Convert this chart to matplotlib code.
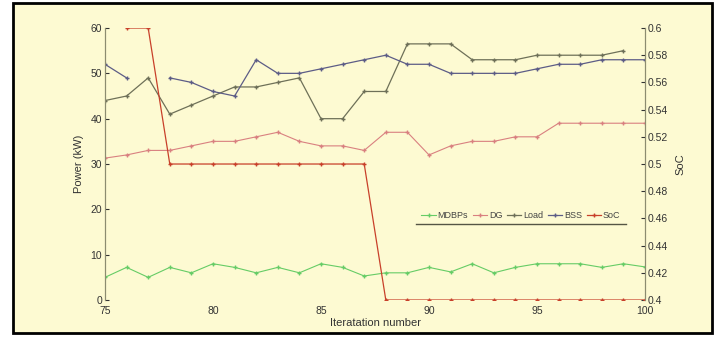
import numpy as np
import matplotlib
matplotlib.use("Agg")
import matplotlib.pyplot as plt
from matplotlib.patches import Rectangle

plt.rcParams['font.family'] = ['Liberation Sans', 'DejaVu Sans']

# iteration axis
iters = np.arange(75, 101)

# power series (kW); nan where nothing is drawn
mdbps = [5, 7.2, 5, 7.2, 6, 8, 7.2, 6, 7.2, 6, 8, 7.2, 5.3, 6, 6, 7.2,
         6.2, 8, 6, 7.2, 8, 8, 8, 7.2, 8, 7.3]
dg = [31.3, 32, 33, 33, 34, 35, 35, 36, 37, 35, 34, 34, 33, 37, 37, 32,
      34, 35, 35, 36, 36, 39, 39, 39, 39, 39]
load = [44, 45, 49, 41, 43, 45, 47, 47, 48, 49, 40, 40, 46, 46, 56.5, 56.5,
        56.5, 53, 53, 53, 54, 54, 54, 54, 55, np.nan]
bss = [52, 49, np.nan, 49, 48, 46, 45, 53, 50, 50, 51, 52, 53, 54, 52, 52,
       50, 50, 50, 50, 51, 52, 52, 53, 53, 53]
# state of charge (right axis)
soc = [np.nan, 0.6, 0.6, 0.5, 0.5, 0.5, 0.5, 0.5, 0.5, 0.5, 0.5, 0.5, 0.5,
       0.4, 0.4, 0.4, 0.4, 0.4, 0.4, 0.4, 0.4, 0.4, 0.4, 0.4, 0.4, 0.4]

bg = '#fdfad2'
spine_c = '#8c8c70'

fig = plt.figure(figsize=(7.22, 3.4), dpi=100, facecolor='white')
fig.patches.append(Rectangle((0.018, 0.022), 0.968, 0.97, transform=fig.transFigure,
                             facecolor=bg, edgecolor='black', linewidth=2, zorder=-1))

ax = fig.add_axes([0.1454, 0.1176, 0.748, 0.8])
ax.set_facecolor('none')
ax2 = ax.twinx()

l1, = ax.plot(iters, mdbps, color='#66cc66', marker='+', ms=3, lw=0.8, label='MDBPs')
l2, = ax.plot(iters, dg, color='#d98080', marker='+', ms=3.5, lw=0.8, label='DG')
l3, = ax.plot(iters, load, color='#6e7058', marker='+', ms=3.5, lw=0.9, label='Load')
l4, = ax.plot(iters, bss, color='#5c5c86', marker='+', ms=3.5, lw=0.9, label='BSS')
l5, = ax2.plot(iters, soc, color='#c8402a', marker='+', ms=3.5, lw=0.9, label='SoC')

ax.set_xlim(75, 100)
ax.set_ylim(0, 60)
ax2.set_ylim(0.4, 0.6)
ax.set_xticks([75, 80, 85, 90, 95, 100])
ax.set_yticks([0, 10, 20, 30, 40, 50, 60])
ax2.set_yticks(np.arange(0.4, 0.601, 0.02))
ax2.set_yticklabels(['0.4', '0.42', '0.44', '0.46', '0.48', '0.5',
                     '0.52', '0.54', '0.56', '0.58', '0.6'])

for a in (ax, ax2):
    a.spines['top'].set_visible(False)
    a.spines['bottom'].set_visible(False)
    a.spines['left'].set_color(spine_c)
    a.spines['right'].set_color(spine_c)
    a.tick_params(direction='in', length=3, labelsize=7.5, colors='#333333',
                  width=0.8, pad=2)
ax.tick_params(axis='x', length=0, pad=4)

ax.set_xlabel('Iteratation number', fontsize=8, color='#333333', labelpad=2)
ax.set_ylabel('Power (kW)', fontsize=8, color='#333333', labelpad=5)
ax2.set_ylabel('SoC', fontsize=8, color='#333333', labelpad=5)

leg = ax.legend(handles=[l1, l2, l3, l4, l5], loc='center', bbox_to_anchor=(0.77, 0.31),
                ncol=5, frameon=False, fontsize=6.5, handlelength=1.6,
                handletextpad=0.2, columnspacing=0.5)
for t in leg.get_texts():
    t.set_color('#444444')
ax.plot([0.575, 0.965], [0.28, 0.28], transform=ax.transAxes, color='#555544',
        lw=1.0, clip_on=False)

fig.savefig('out.png', dpi=100, facecolor=fig.get_facecolor())
